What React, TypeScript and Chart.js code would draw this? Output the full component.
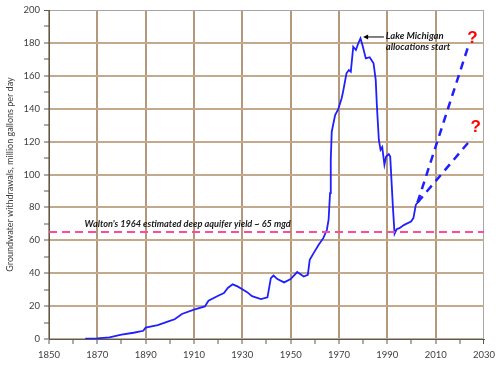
import React, { useEffect, useRef } from "react";
import { Chart, registerables } from "chart.js";

Chart.register(...registerables);

const years = [
  1865, 1870, 1875, 1880, 1885, 1889, 1890, 1895, 1900, 1902, 1905, 1910, 1914.5, 1916,
  1920, 1922.4, 1924, 1926, 1928, 1930, 1932, 1934, 1937.7, 1940.4, 1941.8, 1942.9, 1944.5,
  1947.3, 1950, 1952.7, 1955.4, 1957.1, 1957.9, 1959.5, 1961.6, 1963.5, 1965, 1965.7,
  1966.3, 1966.6, 1967, 1968.4, 1969.7, 1971.1, 1971.7, 1973.1, 1974.1, 1974.9, 1975.9,
  1977, 1978, 1978.9, 1979.7, 1981.1, 1982.7, 1984.3, 1985.2, 1985.7, 1986.5, 1987.2,
  1987.9, 1988.8, 1989.5, 1990.6, 1991.2, 1992.3, 1993, 1993.9, 1995, 1997, 1999.8,
  2000.8, 2001.8, 2002.9, 2003.4,
];
const withdrawals = [
  0.2, 0.4, 1.0, 2.6, 3.8, 5.0, 6.9, 8.5, 11.0, 12.0, 15.2, 17.8, 19.8, 23.3,
  26.3, 27.9, 31, 33.2, 32, 30.3, 28.5, 26, 24.3, 25.3, 37, 38.6, 36.4,
  34.4, 36.4, 40.7, 38, 39, 48.2, 52.2, 57.3, 61.3, 66.4, 72.5,
  88.7, 108.9, 126, 136.2, 139.7, 146.4, 150.4, 161.5, 163.5, 162.5, 177.7,
  175.7, 179.8, 182.8, 178.7, 170.6, 171.3, 167.6, 157.5, 141.3, 121, 115,
  116.6, 105.9, 110.9, 112.4, 110.9, 80.5, 64, 66.8, 67.4, 69.4, 71.4,
  73.5, 81.6, 83.6, 84.2,
];

const highProjYears = [2002.5, 2023.5];
const highProjValues = [83, 178];
const lowProjYears = [2002.5, 2025];
const lowProjValues = [83, 122];

const waltonYears = [1850, 2030];
const waltonValues = [65, 65];

const xMin = 1850;
const xMax = 2030;
const yMin = 0;
const yMax = 200;

const waltonLabel = "Walton's 1964 estimated deep aquifer yield ~ 65 mgd";
const lakeLabel = ["Lake Michigan", "allocations start"];
const yTitle = "Groundwater withdrawals, million gallons per day";

const FONT = 'Lato, "Open Sans", sans-serif';

const toPts = (xs: number[], ys: number[]) => xs.map((x, i) => ({ x, y: ys[i] }));
const isMajorX = (v: number) => Math.round(v - xMin) % 20 === 0;
const isMajorY = (v: number) => Math.round(v - yMin) % 20 === 0;

const annotationPlugin = {
  id: "annots",
  afterDatasetsDraw(chart: any) {
    const { ctx, scales } = chart;
    const xs = scales.x;
    const ys = scales.y;
    ctx.save();
    ctx.fillStyle = "#1a1a1a";
    ctx.textBaseline = "middle";
    ctx.textAlign = "left";
    ctx.font = `bold italic 9.2px ${FONT}`;
    ctx.fillText(waltonLabel, xs.getPixelForValue(1864.7), ys.getPixelForValue(65) - 8);

    ctx.font = `bold italic 9.5px ${FONT}`;
    ctx.fillText(lakeLabel[0], xs.getPixelForValue(1989.4), ys.getPixelForValue(184.2));
    ctx.fillText(lakeLabel[1], xs.getPixelForValue(1989.4), ys.getPixelForValue(177.5));

    const ax1 = xs.getPixelForValue(1988.6);
    const ax0 = xs.getPixelForValue(1980.0);
    const ay = ys.getPixelForValue(183.6);
    ctx.strokeStyle = "#000";
    ctx.lineWidth = 1;
    ctx.beginPath();
    ctx.moveTo(ax1, ay);
    ctx.lineTo(ax0 + 2, ay);
    ctx.stroke();
    ctx.beginPath();
    ctx.moveTo(ax0, ay);
    ctx.lineTo(ax0 + 5, ay - 2.5);
    ctx.lineTo(ax0 + 5, ay + 2.5);
    ctx.closePath();
    ctx.fillStyle = "#000";
    ctx.fill();

    ctx.font = `bold 17px "Liberation Sans", Arial, sans-serif`;
    ctx.fillStyle = "#ff0000";
    ctx.textAlign = "center";
    ctx.fillText("?", xs.getPixelForValue(2025.2), ys.getPixelForValue(182.5));
    ctx.fillText("?", xs.getPixelForValue(2026.6), ys.getPixelForValue(128.5));
    ctx.restore();
  },
};

export default function App() {
  const ref = useRef<HTMLCanvasElement | null>(null);
  useEffect(() => {
    if (!ref.current) return;
    const tan = "#C4AA8C";
    const tanV = "#B4987A";
    const frame = "#A6A6A6";
    const axis = "#595959";
    const chart = new Chart(ref.current, {
      type: "line",
      data: {
        datasets: [
          {
            data: toPts(waltonYears, waltonValues),
            borderColor: "#FF4B96",
            borderWidth: 2,
            borderDash: [8, 5],
            pointRadius: 0,
          },
          {
            data: toPts(highProjYears, highProjValues),
            borderColor: "#1f1fff",
            borderWidth: 2.5,
            borderDash: [8, 6],
            pointRadius: 0,
          },
          {
            data: toPts(lowProjYears, lowProjValues),
            borderColor: "#1f1fff",
            borderWidth: 2.5,
            borderDash: [8, 6],
            pointRadius: 0,
          },
          {
            data: toPts(years, withdrawals),
            borderColor: "#1f1fff",
            borderWidth: 1.8,
            pointRadius: 0,
            tension: 0,
          },
        ],
      },
      options: {
        responsive: false,
        animation: false,
        layout: { padding: { top: 10, right: 11, left: 0, bottom: 0 } },
        plugins: { legend: { display: false }, tooltip: { enabled: false } },
        scales: {
          x: {
            type: "linear",
            min: xMin,
            max: xMax,
            afterFit: (s: any) => {
              s.height = 29;
            },
            ticks: {
              stepSize: 10,
              autoSkip: false,
              maxRotation: 0,
              padding: 5,
              color: "#404040",
              font: { family: FONT, size: 9.5 },
              callback: (v: any) => (isMajorX(Number(v)) ? String(v) : ""),
            },
            grid: {
              color: (c: any) => {
                const v = c.tick?.value;
                if (v === xMax) return frame;
                return isMajorX(v) ? tanV : "rgba(0,0,0,0)";
              },
              lineWidth: (c: any) => (c.tick?.value === xMax ? 1 : 2),
              tickColor: axis,
              tickWidth: 1,
              tickLength: 5,
            },
            border: { color: axis, width: 1 },
          },
          y: {
            type: "linear",
            min: yMin,
            max: yMax,
            afterFit: (s: any) => {
              s.width = 49;
            },
            title: {
              display: true,
              text: yTitle,
              color: "#404040",
              font: { family: FONT, size: 9 },
              padding: { top: 5, bottom: 0 },
            },
            ticks: {
              stepSize: 10,
              autoSkip: false,
              padding: 4,
              color: "#404040",
              font: { family: FONT, size: 9.5 },
              callback: (v: any) => (isMajorY(Number(v)) ? String(v) : ""),
            },
            grid: {
              color: (c: any) => {
                const v = c.tick?.value;
                if (v === yMax) return frame;
                return isMajorY(v) ? tan : "rgba(0,0,0,0)";
              },
              lineWidth: (c: any) => (c.tick?.value === yMax ? 1 : 2),
              tickColor: axis,
              tickWidth: 1,
              tickLength: 5,
            },
            border: { color: axis, width: 1 },
          },
        },
      },
      plugins: [annotationPlugin],
    });
    return () => chart.destroy();
  }, []);
  return (
    <div style={{ position: "fixed", left: 0, top: 0, width: 500, height: 368, background: "#fff" }}>
      <canvas ref={ref} width={500} height={368} style={{ display: "block" }} />
    </div>
  );
}
